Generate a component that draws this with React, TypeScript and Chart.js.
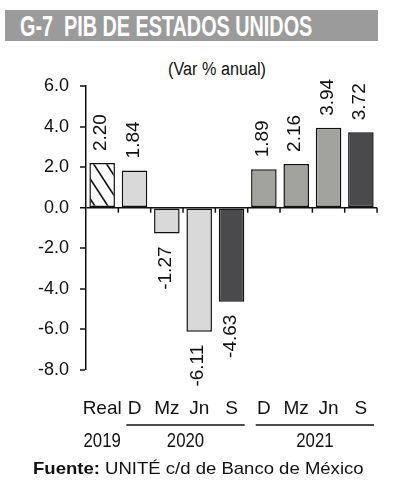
import React, { useEffect, useRef } from 'react';
import { Chart, registerables } from 'chart.js';

Chart.register(...registerables);

const categories = ['Real', 'D', 'Mz', 'Jn', 'S', 'D', 'Mz', 'Jn', 'S'];
const values = [2.2, 1.84, -1.27, -6.11, -4.63, 1.89, 2.16, 3.94, 3.72];
const valueLabels = ['2.20', '1.84', '-1.27', '-6.11', '-4.63', '1.89', '2.16', '3.94', '3.72'];
const yearLabels = ['2019', '2020', '2021'];
const yearFrom = [0, 1, 5];
const yearTo = [0, 4, 8];
const yearLine = [false, true, true];
const yMin = -8;
const yMax = 6;
const yStep = 2;

const LIGHT = '#d9d9d9';
const MEDIUM = '#a2a29e';
const DARK = '#4a4a4c';

function makeHatch(): CanvasPattern | string {
  const c = document.createElement('canvas');
  const w = 13;
  const h = 20;
  c.width = w;
  c.height = h;
  const g = c.getContext('2d');
  if (!g) return '#fff';
  g.fillStyle = '#fff';
  g.fillRect(0, 0, w, h);
  g.strokeStyle = '#111';
  g.lineWidth = 1.6;
  for (let k = -1; k <= 1; k++) {
    g.beginPath();
    g.moveTo(k * w - w, -h);
    g.lineTo(k * w + 2 * w, 2 * h);
    g.stroke();
  }
  const p = g.createPattern(c, 'repeat');
  return p || '#fff';
}

const overlayPlugin = {
  id: 'overlay',
  afterDatasetsDraw(chart: any) {
    const ctx = chart.ctx;
    const xs = chart.scales.x;
    const ys = chart.scales.y;
    const meta = chart.getDatasetMeta(0);
    const step = xs.getPixelForValue(1) - xs.getPixelForValue(0);
    const y0 = ys.getPixelForValue(0);
    ctx.save();
    // boundary ticks on zero line
    ctx.strokeStyle = '#111';
    ctx.lineWidth = 1.5;
    for (let i = 0; i < categories.length; i++) {
      const bx = xs.getPixelForValue(i) + step / 2;
      ctx.beginPath();
      ctx.moveTo(bx, y0);
      ctx.lineTo(bx, y0 + 5);
      ctx.stroke();
    }
    // data labels
    ctx.fillStyle = '#111';
    ctx.font = '19px "Liberation Sans", Arial, sans-serif';
    ctx.textBaseline = 'middle';
    meta.data.forEach((bar: any, i: number) => {
      const v = values[i];
      ctx.save();
      if (v >= 0) {
        ctx.translate(bar.x - 1, bar.y - 12);
        ctx.rotate(-Math.PI / 2);
        ctx.textAlign = 'left';
      } else {
        ctx.translate(bar.x - 1, bar.y + 13);
        ctx.rotate(-Math.PI / 2);
        ctx.textAlign = 'right';
      }
      ctx.fillText(valueLabels[i], 0, 0);
      ctx.restore();
    });
    // year groups
    const lineY = 425;
    const yearY = 441;
    ctx.lineWidth = 1.5;
    ctx.font = '21px "Liberation Sans", Arial, sans-serif';
    ctx.textAlign = 'center';
    for (let g = 0; g < yearLabels.length; g++) {
      const left = xs.getPixelForValue(yearFrom[g]) - step / 2;
      const right = xs.getPixelForValue(yearTo[g]) + step / 2;
      let cx = (left + right) / 2;
      if (yearLine[g]) {
        const l1 = left + 8;
        const l2 = right - 3;
        ctx.beginPath();
        ctx.moveTo(l1, lineY);
        ctx.lineTo(l2, lineY);
        ctx.stroke();
        cx = (l1 + l2) / 2;
      }
      ctx.save();
      ctx.translate(cx, yearY);
      ctx.scale(0.8, 1);
      ctx.fillText(yearLabels[g], 0, 0);
      ctx.restore();
    }
    ctx.restore();
  },
};

export default function App() {
  const ref = useRef<HTMLCanvasElement | null>(null);
  useEffect(() => {
    if (!ref.current) return;
    const hatch = makeHatch();
    const bg = [hatch, LIGHT, LIGHT, LIGHT, DARK, MEDIUM, MEDIUM, MEDIUM, DARK];
    const chart = new Chart(ref.current, {
      type: 'bar',
      data: {
        labels: categories,
        datasets: [
          {
            data: values,
            backgroundColor: bg as any,
            borderColor: '#111',
            borderWidth: 1.5,
            borderSkipped: false,
            barPercentage: 0.79,
            categoryPercentage: 1,
          },
        ],
      },
      options: {
        responsive: false,
        animation: false,
        layout: { padding: { left: 0, right: 14, top: 86, bottom: 0 } },
        plugins: { legend: { display: false }, tooltip: { enabled: false } },
        scales: {
          x: {
            grid: { display: false, drawTicks: false },
            border: { display: false },
            ticks: {
              color: '#111',
              font: { family: '"Liberation Sans", Arial, sans-serif', size: 19 },
              padding: 27,
              maxRotation: 0,
              minRotation: 0,
              autoSkip: false,
            },
            afterFit: (s: any) => {
              s.height = 130;
            },
          },
          y: {
            min: yMin,
            max: yMax,
            border: { display: true, color: '#111', width: 1.5 },
            grid: {
              color: (c: any) => (c.tick && c.tick.value === 0 ? '#111' : 'rgba(0,0,0,0)'),
              lineWidth: (c: any) => (c.tick && c.tick.value === 0 ? 1.5 : 0),
              drawTicks: true,
              tickLength: 6,
              tickColor: '#111',
              tickWidth: 1.5,
            },
            ticks: {
              stepSize: yStep,
              color: '#111',
              padding: 11,
              font: { family: '"Liberation Sans", Arial, sans-serif', size: 18 },
              callback: (v: any) => Number(v).toFixed(1),
            },
            afterFit: (s: any) => {
              s.width = 86;
            },
          },
        },
      },
      plugins: [overlayPlugin],
    });
    return () => chart.destroy();
  }, []);

  return (
    <div style={{ position: 'fixed', left: 0, top: 0, width: 395, height: 500, background: '#fff', overflow: 'hidden' }}>
      <div style={{ position: 'absolute', left: 5, top: 10, width: 373, height: 31, background: '#9b9b9b' }} />
      <div
        style={{
          position: 'absolute',
          left: 20,
          top: 11,
          fontFamily: '"Liberation Sans", Arial, sans-serif',
          fontWeight: 'bold',
          fontSize: 30,
          lineHeight: '30px',
          color: '#fff',
          whiteSpace: 'pre',
          transform: 'scaleX(0.66)',
          transformOrigin: 'left top',
        }}
      >
        {'G-7  PIB DE ESTADOS UNIDOS'}
      </div>
      <div
        style={{
          position: 'absolute',
          left: 217,
          top: 60,
          fontFamily: '"Liberation Sans", Arial, sans-serif',
          fontSize: 18,
          lineHeight: '18px',
          color: '#111',
          whiteSpace: 'pre',
          transform: 'translateX(-50%) scaleX(0.9)',
          transformOrigin: 'center top',
        }}
      >
        (Var % anual)
      </div>
      <canvas ref={ref} width={395} height={500} style={{ position: 'absolute', left: 0, top: 0, width: 395, height: 500 }} />
      <div
        style={{
          position: 'absolute',
          left: 33,
          top: 460,
          fontFamily: '"Liberation Sans", Arial, sans-serif',
          fontSize: 17,
          lineHeight: '17px',
          color: '#111',
          whiteSpace: 'pre',
          transform: 'scaleX(1.09)',
          transformOrigin: 'left top',
        }}
      >
        <b>Fuente:</b> UNITÉ c/d de Banco de México
      </div>
    </div>
  );
}
